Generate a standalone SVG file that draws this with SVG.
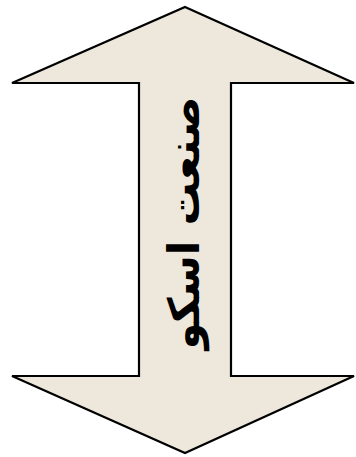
<svg xmlns="http://www.w3.org/2000/svg" width="356" height="457" viewBox="0 0 356 457">
<style>
.arrow{fill:#EEE8DC;stroke:#000;stroke-width:2.2;stroke-linejoin:miter}
.lbl{font-family:"DejaVu Sans",sans-serif;font-size:43px;font-weight:bold;fill:#000}
</style>
<rect width="356" height="457" fill="#fff"/>
<g id="arrow">
<polygon class="arrow" points="185,7 354,83 231,83 231,376 354,376 185,453 12,376 139,376 139,83 12,83"/>
<text class="lbl" transform="translate(184,223) rotate(-90)" text-anchor="middle" dominant-baseline="central" direction="rtl">صنعت اسکو</text>
</g>
</svg>
